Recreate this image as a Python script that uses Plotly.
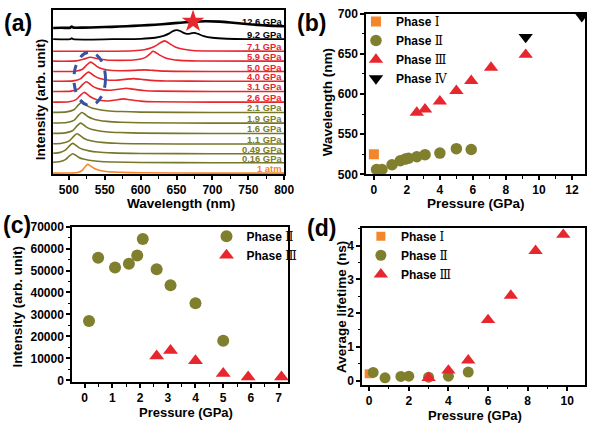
import plotly.graph_objects as go

# ---------------- Panel (a): stacked PL spectra ----------------
spec_labels = ["1 atm", "0.16 GPa", "0.49 GPa", "1.1 GPa", "1.6 GPa", "1.9 GPa", "2.1 GPa",
               "2.6 GPa", "3.1 GPa", "4.0 GPa", "5.0 GPa", "5.9 GPa", "7.1 GPa", "9.2 GPa", "12.6 GPa"]
spec_phase = ["I", "II", "II", "II", "II", "II", "II",
              "III", "III", "III", "III", "III", "III", "IV", "IV"]
spec_offsets = [1.3, 12, 21.3, 31.3, 42.3, 53, 64, 74.7, 85.7, 96.3, 106.3, 117, 127.3, 139.7, 151.3]

wl_1atm = [478, 500, 512, 518, 522, 526, 530, 535, 542, 552, 570, 600, 700, 800]
in_1atm = [0, 0.1, 0.6, 2.5, 6, 9, 7.5, 5, 3, 1.6, 0.8, 0.3, 0, 0]
wl_016 = [478, 488, 495, 500, 505, 509, 514, 520, 528, 540, 560, 600, 700, 800]
in_016 = [0.4, 1.2, 3.2, 6.5, 9.3, 8.0, 5.5, 3.8, 2.6, 1.6, 0.8, 0.3, 0, 0]
wl_049 = [478, 488, 495, 500, 505, 509, 514, 520, 528, 540, 560, 600, 700, 800]
in_049 = [0.5, 1.4, 3.7, 7.5, 10.7, 9.2, 6.3, 4.3, 3.0, 1.8, 0.9, 0.3, 0, 0]
wl_11 = [478, 490, 500, 506, 511, 515, 520, 526, 534, 546, 566, 600, 700, 800]
in_11 = [0.3, 0.9, 3.0, 7.5, 10.7, 9.2, 6.3, 4.3, 3.0, 1.8, 0.9, 0.3, 0, 0]
wl_16 = [478, 495, 505, 511, 516, 520, 525, 531, 539, 551, 571, 600, 700, 800]
in_16 = [0.1, 0.6, 2.8, 7.5, 10.7, 9.2, 6.3, 4.3, 3.0, 1.8, 0.9, 0.3, 0, 0]
wl_19 = [478, 497, 507, 513, 518, 522, 527, 533, 541, 553, 573, 600, 700, 800]
in_19 = [0.1, 0.6, 2.8, 7.7, 11.0, 9.4, 6.5, 4.4, 3.0, 1.8, 0.9, 0.3, 0, 0]
wl_21 = [478, 497, 507, 513, 518, 522, 527, 533, 541, 553, 573, 600, 700, 800]
in_21 = [0.1, 0.6, 2.8, 7.5, 10.7, 9.2, 6.3, 4.3, 3.0, 1.8, 0.9, 0.3, 0, 0]
wl_26 = [478, 500, 510, 516, 521, 525, 530, 536, 545, 555, 565, 576, 585, 600, 620, 700, 800]
in_26 = [0, 0.3, 2.5, 7.0, 10.0, 8.5, 5.5, 3.2, 1.6, 1.2, 2.2, 3.3, 2.4, 1.0, 0.3, 0, 0]
wl_31 = [478, 503, 513, 519, 524, 528, 533, 539, 548, 558, 569, 580, 589, 604, 624, 700, 800]
in_31 = [0, 0.3, 2.5, 7.0, 10.0, 8.5, 5.5, 3.2, 1.6, 1.2, 2.2, 3.3, 2.4, 1.0, 0.3, 0, 0]
wl_40 = [478, 506, 516, 522, 527, 531, 536, 542, 551, 565, 578, 590, 600, 615, 635, 700, 800]
in_40 = [0, 0.3, 2.4, 6.6, 9.4, 8.0, 5.2, 3.0, 1.5, 1.0, 1.9, 2.7, 2.0, 0.8, 0.2, 0, 0]
wl_50 = [478, 509, 519, 525, 530, 534, 539, 545, 554, 570, 590, 605, 617, 635, 700, 800]
in_50 = [0, 0.3, 2.4, 6.8, 9.7, 8.2, 5.3, 3.0, 1.5, 0.8, 1.2, 1.7, 1.2, 0.4, 0, 0]
wl_59 = [478, 510, 520, 530, 540, 552, 570, 590, 600, 608, 613, 617, 621, 626, 633, 642, 655, 680, 800]
in_59 = [0, 0.3, 2.0, 4.0, 2.6, 1.2, 0.8, 1.2, 2.2, 4.5, 7.5, 10.3, 9.0, 6.5, 3.8, 2.0, 0.8, 0.2, 0]
wl_71 = [478, 550, 590, 605, 615, 622, 628, 633, 637, 642, 649, 658, 672, 700, 800]
in_71 = [0, 0, 0.5, 1.5, 3.5, 6.0, 9.0, 10.7, 9.5, 7.0, 4.2, 2.2, 0.8, 0.2, 0]
wl_92 = [478, 502, 504, 506, 560, 600, 620, 632, 640, 645, 650, 655, 660, 665, 670, 675, 680, 688, 700, 720, 750, 800]
in_92 = [0, 0, 1.1, 0, 0, 0.4, 1.5, 3.5, 6.0, 8.3, 9.3, 8.5, 6.5, 5.5, 6.0, 6.6, 5.5, 3.2, 1.5, 0.5, 0.1, 0]
wl_126 = [478, 490, 502, 504, 506, 520, 540, 560, 580, 600, 620, 640, 655, 670, 690, 710, 725, 740, 755, 770, 785, 800]
in_126 = [0, 0.2, 0.3, 1.6, 0.4, 0.4, 0.8, 1.2, 1.8, 2.5, 3.4, 4.5, 5.5, 6.3, 7.0, 6.6, 5.7, 4.6, 3.6, 2.8, 2.2, 1.8]

spec_wl = [wl_1atm, wl_016, wl_049, wl_11, wl_16, wl_19, wl_21, wl_26, wl_31, wl_40, wl_50, wl_59, wl_71, wl_92, wl_126]
spec_in = [in_1atm, in_016, in_049, in_11, in_16, in_19, in_21, in_26, in_31, in_40, in_50, in_59, in_71, in_92, in_126]

star_wl = [673]
star_height = [6.8]   # above the 12.6 GPa baseline

# ---------------- Panel (b): peak wavelength vs pressure ----------------
b_p1 = [0]
b_w1 = [525]
b_p2 = [0.16, 0.49, 1.1, 1.6, 1.9, 2.1, 2.6, 3.1, 4.0, 5.0, 5.9]
b_w2 = [506, 506, 512, 517, 519, 520, 522, 524.5, 526.5, 532, 531]
b_p3 = [2.6, 3.1, 4.0, 5.0, 5.9, 7.1, 9.2]
b_w3 = [577, 581, 591, 604, 616.5, 633, 649]
b_p4 = [9.2, 12.6]
b_w4 = [671, 697]

# ---------------- Panel (c): intensity vs pressure ----------------
c_p2 = [0.16, 0.49, 1.1, 1.6, 1.9, 2.1, 2.6, 3.1, 4.0, 5.0]
c_i2 = [27000, 55800, 51400, 53100, 56800, 64300, 50600, 43300, 35100, 18000]
c_p3 = [2.6, 3.1, 4.0, 5.0, 5.9, 7.1]
c_i3 = [11100, 13600, 8900, 3100, 1500, 1500]

# ---------------- Panel (d): average lifetime vs pressure ----------------
d_p1 = [0]
d_t1 = [0.2]
d_p2 = [0.2, 0.8, 1.6, 2.0, 3.0, 4.0, 5.0]
d_t2 = [0.24, 0.08, 0.12, 0.13, 0.1, 0.13, 0.25]
d_p3 = [3.0, 4.0, 5.0, 6.0, 7.15, 8.4, 9.8]
d_t3 = [0.08, 0.3, 0.6, 1.8, 2.52, 3.85, 4.33]

# ---------------- style ----------------
ORANGE = "#f4862a"
OLIVE = "#7f7f2e"
RED = "#e8262d"
BLACK = "#000000"
BLUE = "#3552a3"
line_col = {"I": ORANGE, "II": "#77772a", "III": RED, "IV": BLACK}
lab_col = {"I": ORANGE, "II": "#7c7c2c", "III": RED, "IV": BLACK}
FONT = "Liberation Sans, Arial, sans-serif"
SERIF = "Liberation Serif, DejaVu Serif, serif"

def ph(num):
    return "Phase <span style='font-family:%s;font-weight:normal'>%s</span>" % (SERIF, num)

fig = go.Figure()

# (a) spectra
for k in range(len(spec_labels)):
    off = spec_offsets[k]
    fig.add_trace(go.Scatter(
        x=spec_wl[k], y=[off + v for v in spec_in[k]], mode="lines",
        line=dict(color=line_col[spec_phase[k]], width=2.6 if k == 14 else (1.8 if k == 13 else 1.6),
                  shape="spline", smoothing=0.6),
        xaxis="x", yaxis="y", showlegend=False, hoverinfo="skip"))
    fig.add_annotation(x=800, y=off + spec_in[k][-1], xref="x", yref="y",
                       text="<b>%s</b>" % spec_labels[k], showarrow=False,
                       xanchor="right", yanchor="bottom", xshift=-1, yshift=-2, borderpad=0,
                       font=dict(family=FONT, size=9.4, color=lab_col[spec_phase[k]]))

fig.add_trace(go.Scatter(x=star_wl, y=[spec_offsets[14] + h for h in star_height], mode="markers",
                         marker=dict(symbol="star", size=17, color=RED, line=dict(width=0)),
                         xaxis="x", yaxis="y", showlegend=False, cliponaxis=False))

fig.add_shape(type="circle", xref="x", yref="y", x0=507, x1=551, y0=71.3, y1=126.3,
              line=dict(color=BLUE, width=3, dash="dash"))

# (b)
fig.add_trace(go.Scatter(x=b_p1, y=b_w1, mode="markers", name=ph("Ⅰ"),
                         marker=dict(symbol="square", size=10, color=ORANGE), xaxis="x2", yaxis="y2", legend="legend"))
fig.add_trace(go.Scatter(x=b_p2, y=b_w2, mode="markers", name=ph("Ⅱ"),
                         marker=dict(symbol="circle", size=11.5, color=OLIVE), xaxis="x2", yaxis="y2", legend="legend"))
fig.add_trace(go.Scatter(x=b_p3, y=b_w3, mode="markers", name=ph("Ⅲ"),
                         marker=dict(symbol="triangle-up", size=12.5, color=RED), xaxis="x2", yaxis="y2", legend="legend"))
fig.add_trace(go.Scatter(x=b_p4, y=b_w4, mode="markers", name=ph("Ⅳ"),
                         marker=dict(symbol="triangle-down", size=12.5, color=BLACK), xaxis="x2", yaxis="y2", legend="legend"))

# (c)
fig.add_trace(go.Scatter(x=c_p2, y=c_i2, mode="markers", name=ph("Ⅱ"),
                         marker=dict(symbol="circle", size=12, color=OLIVE), xaxis="x3", yaxis="y3", legend="legend2"))
fig.add_trace(go.Scatter(x=c_p3, y=c_i3, mode="markers", name=ph("Ⅲ"),
                         marker=dict(symbol="triangle-up", size=13, color=RED), xaxis="x3", yaxis="y3", legend="legend2"))

# (d)
fig.add_trace(go.Scatter(x=d_p1, y=d_t1, mode="markers", name=ph("Ⅰ"),
                         marker=dict(symbol="square", size=9, color=ORANGE), xaxis="x4", yaxis="y4", legend="legend3"))
fig.add_trace(go.Scatter(x=d_p2, y=d_t2, mode="markers", name=ph("Ⅱ"),
                         marker=dict(symbol="circle", size=11, color=OLIVE), xaxis="x4", yaxis="y4", legend="legend3"))
fig.add_trace(go.Scatter(x=d_p3, y=d_t3, mode="markers", name=ph("Ⅲ"),
                         marker=dict(symbol="triangle-up", size=12.5, color=RED), xaxis="x4", yaxis="y4", legend="legend3"))

W, H = 600, 429

def dx(a, b):
    return [a / W, b / W]

def dy(top, bottom):
    return [1 - bottom / H, 1 - top / H]

def ax(domain, rng, dtick=None, minor=None, anchor=None, labels=True, fmt=None):
    d = dict(domain=domain, range=rng, showline=True, mirror=True, linecolor="black", linewidth=2,
             showgrid=False, zeroline=False, anchor=anchor,
             tickfont=dict(family=FONT, size=12, color="black", weight="bold"))
    if labels:
        d.update(ticks="outside", ticklen=3.5, tickwidth=1.5, tickcolor="black", dtick=dtick,
                 minor=dict(ticks="outside", ticklen=2.2, tickwidth=1.2, dtick=minor, tickcolor="black"))
        if fmt:
            d["tickformat"] = fmt
    else:
        d.update(showticklabels=False, ticks="")
    return d

LEGFONT = dict(family=FONT, size=12, color="black", weight="bold")
fig.update_layout(
    width=W, height=H, margin=dict(l=0, r=0, t=0, b=0),
    paper_bgcolor="white", plot_bgcolor="white",
    font=dict(family=FONT, color="black"),
    xaxis=ax(dx(54, 289), [478, 800], 50, 25, anchor="y"),
    yaxis=ax(dy(3, 173), [0, 170], anchor="x", labels=False),
    xaxis2=ax(dx(372, 595), [-0.49, 12.8], 2, 1, anchor="y2"),
    yaxis2=ax(dy(7, 173), [500, 700], 50, 25, anchor="x2"),
    xaxis3=ax(dx(73, 293), [-0.46, 7.34], 1, 0.5, anchor="y3"),
    yaxis3=ax(dy(227, 388), [-900, 70000], 10000, 5000, anchor="x3", fmt="d"),
    xaxis4=ax(dx(368, 595), [-0.37, 10.9], 2, 1, anchor="y4"),
    yaxis4=ax(dy(228, 391), [-0.14, 4.54], 1, 0.5, anchor="x4"),
    legend=dict(x=362 / W, y=1.0, xanchor="left", yanchor="top", bgcolor="rgba(0,0,0,0)",
                font=LEGFONT, tracegroupgap=0),
    legend2=dict(x=210 / W, y=1 - 222 / H, xanchor="left", yanchor="top", bgcolor="rgba(0,0,0,0)",
                 font=LEGFONT),
    legend3=dict(x=367 / W, y=1 - 222 / H, xanchor="left", yanchor="top", bgcolor="rgba(0,0,0,0)",
                 font=LEGFONT),
)

def txt(x, y, s, size, rot=0):
    fig.add_annotation(x=x / W, y=1 - y / H, xref="paper", yref="paper", text="<b>%s</b>" % s,
                       showarrow=False, textangle=rot, xanchor="center", yanchor="middle", borderpad=0,
                       font=dict(family=FONT, size=size, color="black"))

# axis titles
txt(184, 203, "Wavelength (nm)", 13.5)
txt(42, 95, "Intensity (arb. unit)", 13.5, -90)
txt(333, 98, "Wavelength (nm)", 13.5, -90)
txt(484, 203, "Pressure (GPa)", 13.5)
txt(18, 310, "Intensity (arb. unit)", 13.5, -90)
txt(189, 419.5, "Pressure (GPa)", 13)
txt(348, 310, "Average lifetime (ns)", 13.5, -90)
txt(483, 422.5, "Pressure (GPa)", 13)

# panel labels
txt(18, 17, "(a)", 23)
txt(317, 17, "(b)", 23)
txt(17, 225, "(c)", 23)
txt(327, 228, "(d)", 23)

fig.write_html("out.html", config={"displayModeBar": False},
               post_script="document.body.style.margin='0';document.body.style.overflow='hidden';")
